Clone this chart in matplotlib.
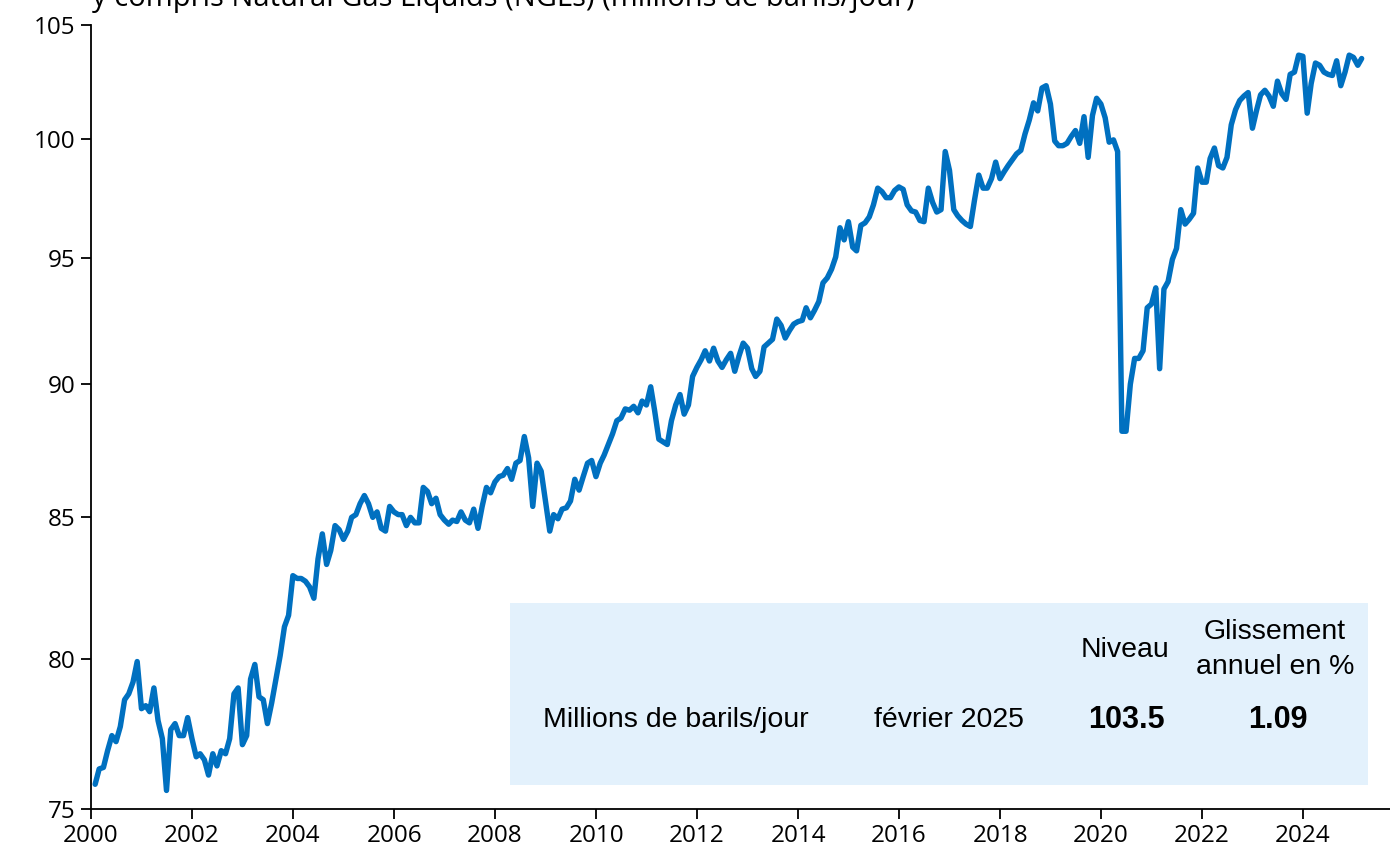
import numpy as np
import pandas as pd
import matplotlib
matplotlib.use("Agg")
import matplotlib.pyplot as plt
import matplotlib.dates as mdates
from matplotlib.patches import Rectangle
from matplotlib.ticker import FixedLocator, FixedFormatter, NullLocator

# Production mensuelle (millions de barils/jour), janvier 2000 -> février 2025
prod_2000 = [75.8, 76.3, 76.35, 76.9, 77.4, 77.2, 77.7, 78.6, 78.8, 79.2, 79.9, 78.3]
prod_2001 = [78.4, 78.2, 79.0, 77.9, 77.3, 75.6, 77.6, 77.8, 77.4, 77.4, 78.0, 77.3]
prod_2002 = [76.7, 76.8, 76.6, 76.1, 76.8, 76.4, 76.9, 76.8, 77.3, 78.8, 79.0, 77.1]
prod_2003 = [77.4, 79.3, 79.8, 78.7, 78.6, 77.8, 78.5, 79.3, 80.1, 81.1, 81.5, 82.9]
prod_2004 = [82.8, 82.8, 82.7, 82.5, 82.1, 83.5, 84.4, 83.3, 83.8, 84.7, 84.55, 84.2]
prod_2005 = [84.5, 85.0, 85.1, 85.5, 85.8, 85.5, 85.0, 85.2, 84.6, 84.5, 85.4, 85.2]
prod_2006 = [85.1, 85.1, 84.7, 85.0, 84.8, 84.8, 86.1, 85.95, 85.5, 85.7, 85.1, 84.9]
prod_2007 = [84.75, 84.9, 84.85, 85.2, 84.9, 84.8, 85.3, 84.6, 85.4, 86.1, 85.9, 86.3]
prod_2008 = [86.5, 86.55, 86.8, 86.4, 87.0, 87.1, 88.0, 87.2, 85.4, 87.0, 86.7, 85.6]
prod_2009 = [84.5, 85.1, 84.95, 85.3, 85.35, 85.6, 86.4, 86.0, 86.5, 87.0, 87.1, 86.5]
prod_2010 = [87.0, 87.3, 87.7, 88.1, 88.6, 88.7, 89.05, 89.0, 89.15, 88.9, 89.35, 89.2]
prod_2011 = [89.9, 89.0, 87.9, 87.8, 87.7, 88.6, 89.2, 89.6, 88.85, 89.2, 90.3, 90.65]
prod_2012 = [90.95, 91.3, 90.9, 91.4, 90.9, 90.65, 90.95, 91.2, 90.5, 91.1, 91.6, 91.4]
prod_2013 = [90.6, 90.3, 90.5, 91.45, 91.6, 91.75, 92.55, 92.3, 91.8, 92.1, 92.35, 92.45]
prod_2014 = [92.5, 93.0, 92.6, 92.9, 93.25, 94.0, 94.2, 94.55, 95.05, 96.25, 95.75, 96.5]
prod_2015 = [95.45, 95.3, 96.35, 96.45, 96.7, 97.2, 97.9, 97.75, 97.5, 97.5, 97.8, 97.95]
prod_2016 = [97.85, 97.2, 96.95, 96.9, 96.55, 96.5, 97.9, 97.3, 96.9, 97.0, 99.45, 98.65]
prod_2017 = [97.0, 96.75, 96.55, 96.4, 96.3, 97.4, 98.45, 97.9, 97.9, 98.3, 99.0, 98.3]
prod_2018 = [98.6, 98.85, 99.1, 99.35, 99.5, 100.2, 100.8, 101.55, 101.2, 102.2, 102.3, 101.5]
prod_2019 = [99.9, 99.7, 99.7, 99.8, 100.1, 100.35, 99.8, 100.95, 99.2, 101.0, 101.75, 101.5]
prod_2020 = [100.9, 99.85, 99.95, 99.45, 88.2, 88.2, 90.0, 91.0, 91.0, 91.3, 93.0, 93.15]
prod_2021 = [93.8, 90.6, 93.75, 94.05, 94.95, 95.4, 97.0, 96.4, 96.6, 96.85, 98.75, 98.15]
prod_2022 = [98.15, 99.15, 99.6, 98.85, 98.75, 99.2, 100.6, 101.25, 101.65, 101.85, 102.0, 100.45]
prod_2023 = [101.25, 101.9, 102.1, 101.85, 101.4, 102.5, 101.95, 101.7, 102.8, 102.9, 103.65, 103.6]
prod_2024 = [101.1, 102.4, 103.3, 103.2, 102.9, 102.8, 102.75, 103.4, 102.3, 102.9, 103.65, 103.55]
prod_2025 = [103.2, 103.5]

production = (prod_2000 + prod_2001 + prod_2002 + prod_2003 + prod_2004 + prod_2005
              + prod_2006 + prod_2007 + prod_2008 + prod_2009 + prod_2010 + prod_2011
              + prod_2012 + prod_2013 + prod_2014 + prod_2015 + prod_2016 + prod_2017
              + prod_2018 + prod_2019 + prod_2020 + prod_2021 + prod_2022 + prod_2023
              + prod_2024 + prod_2025)
dates = pd.date_range("2000-01-31", periods=len(production), freq="ME")

y_ticks = [75, 80, 85, 90, 95, 100, 105]
x_tick_years = list(range(2000, 2025, 2))

dernier_mois = "février 2025"
niveau = "103.5"
glissement = "1.09"

BLEU = "#0070C0"
FOND_TABLE = "#E3F1FC"

fig = plt.figure(figsize=(13.9, 8.46), dpi=100)
ax = fig.add_axes([91 / 1390, 1 - 809 / 846, 1 - 91 / 1390, (809 - 25) / 846])

ax.plot(dates, production, color=BLEU, linewidth=3.9, solid_joinstyle="round",
        solid_capstyle="round", zorder=3)

ax.set_yscale("log")
ax.set_ylim(75, 105)
ax.yaxis.set_major_locator(FixedLocator(y_ticks))
ax.yaxis.set_major_formatter(FixedFormatter([str(t) for t in y_ticks]))
ax.yaxis.set_minor_locator(NullLocator())

ax.set_xlim(pd.Timestamp("2000-01-01"), pd.Timestamp("2025-09-21"))
ax.xaxis.set_major_locator(FixedLocator([mdates.date2num(pd.Timestamp(f"{a}-01-01"))
                                         for a in x_tick_years]))
ax.xaxis.set_major_formatter(FixedFormatter([str(a) for a in x_tick_years]))

for s in ["top", "right"]:
    ax.spines[s].set_visible(False)
for s in ["left", "bottom"]:
    ax.spines[s].set_linewidth(1.3)
ax.tick_params(axis="both", direction="out", length=7, width=1.3,
               labelsize=17.5, pad=4)
for lab in ax.get_xticklabels() + ax.get_yticklabels():
    lab.set_family("Open Sans")

# encadré du dernier point
fig.patches.append(Rectangle((510 / 1390, 1 - 785 / 846), (1368 - 510) / 1390,
                             (785 - 603) / 846, transform=fig.transFigure,
                             facecolor=FOND_TABLE, edgecolor="none", zorder=1))
police = "Liberation Sans"
fig.text(543 / 1390, 1 - 720 / 846, "Millions de barils/jour", fontsize=20.5,
         family=police, va="center", ha="left")
fig.text(949 / 1390, 1 - 720 / 846, dernier_mois, fontsize=20.5,
         family=police, va="center", ha="center")
fig.text(1126 / 1390, 1 - 720 / 846, niveau, fontsize=22, fontweight="bold",
         family=police, va="center", ha="center")
fig.text(1278 / 1390, 1 - 720 / 846, glissement, fontsize=22, fontweight="bold",
         family=police, va="center", ha="center")
fig.text(1125 / 1390, 1 - 650 / 846, "Niveau", fontsize=20.5,
         family=police, va="center", ha="center")
fig.text(1275 / 1390, 1 - 649 / 846, "Glissement\nannuel en %", fontsize=20.5,
         family=police, va="center", ha="center", linespacing=1.45)

# sous-titre (la première ligne sort du cadre)
fig.text(92 / 1390, 1 - 6 / 846,
         "y compris Natural Gas Liquids (NGLs) (millions de barils/jour)",
         fontsize=21, family="Open Sans", va="baseline", ha="left")

fig.savefig("out.png", dpi=100)
